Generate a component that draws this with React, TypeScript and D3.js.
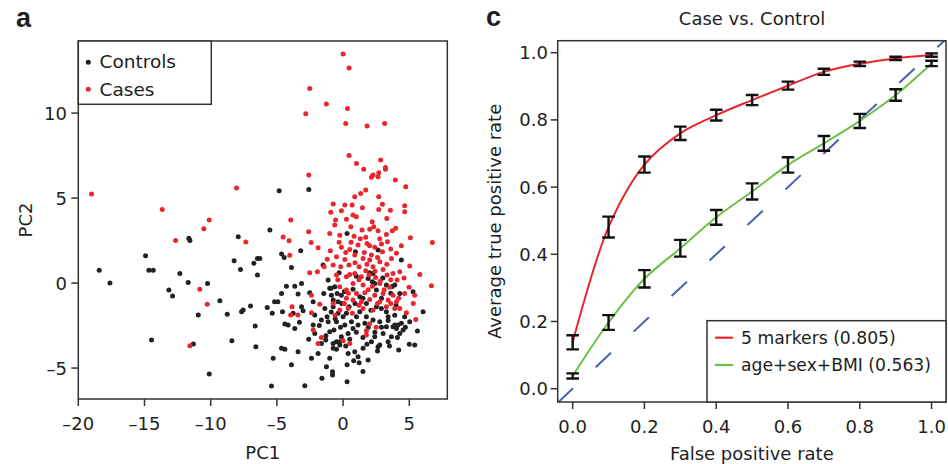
import React from "react";
import * as d3 from "d3";

// ---------- Panel a: PCA scatter ----------
const pcXTicks = [-20, -15, -10, -5, 0, 5];
const pcYTicks = [-5, 0, 5, 10];

const cases: [number, number][] = [
  [0.0, 13.47], [0.45, 12.65], [-2.52, 11.45], [-1.26, 10.53], [-2.82, 9.96], [0.33, 10.27],
  [0.2, 9.39], [1.81, 9.24], [3.14, 9.39], [0.45, 7.51], [1.01, 7.04], [1.56, 6.69],
  [2.84, 7.24], [3.2, 6.8], [3.2, 6.7], [2.69, 6.49], [2.14, 6.22], [2.26, 6.35], [2.64, 6.25],
  [3.95, 6.06], [-2.59, 6.35], [4.73, 5.67], [1.71, 5.47], [1.33, 5.27], [0.88, 5.08], [2.69, 5.08],
  [-8.05, 5.59], [-19.0, 5.24], [-13.66, 4.33], [-10.11, 3.71], [-10.52, 3.2], [-12.65, 2.51],
  [-7.35, 2.41], [-3.95, 3.71], [-2.6, 3.02], [-4.53, 2.71], [-4.08, 2.49], [-2.41, 2.39],
  [-1.89, 2.08], [-4.03, 1.63], [-0.75, 4.65], [0.13, 4.59], [0.68, 4.59], [1.46, 4.43],
  [2.69, 4.33], [2.97, 4.63], [3.57, 4.29], [4.65, 4.55], [4.65, 4.2], [-0.13, 4.25], [-0.93, 4.16],
  [-0.57, 3.71], [0.25, 3.76], [0.75, 4.0], [-0.63, 3.41], [0.58, 3.31], [1.43, 3.12], [2.01, 3.16],
  [2.31, 3.31], [2.64, 3.08], [3.27, 2.86], [3.72, 3.08], [3.97, 3.22], [5.08, 2.67], [6.74, 2.39],
  [-1.01, 2.92], [-0.25, 2.82], [0.83, 2.76], [1.71, 2.69], [2.77, 2.61], [3.35, 2.43], [-0.96, 1.9],
  [-0.13, 2.1], [0.5, 1.98], [1.13, 2.24], [1.81, 2.33], [2.39, 2.1], [2.97, 1.84], [4.03, 1.75],
  [-0.5, 1.55], [0.13, 1.39], [0.88, 1.65], [1.51, 1.45], [2.01, 1.35], [2.77, 1.25], [3.65, 1.45],
  [5.03, 1.0], [5.79, 0.51], [6.67, -0.16], [-0.75, 1.06], [-0.18, 0.96], [0.45, 1.06], [1.21, 0.96],
  [1.71, 0.73], [2.26, 0.96], [3.02, 0.8], [4.28, 0.67], [-1.94, 0.67], [-2.52, 0.61], [-1.43, 0.96],
  [-0.5, 0.47], [0.25, 0.37], [0.88, 0.57], [1.38, 0.37], [1.96, 0.47], [2.46, 0.33], [3.32, 0.47],
  [3.77, 0.57], [4.08, 0.18], [0.75, -0.02], [1.51, -0.12], [2.21, -0.18], [2.77, -0.02], [3.52, -0.25],
  [-0.25, -0.22], [0.25, -0.41], [1.01, -0.61], [1.64, -0.57], [2.39, -0.71], [3.02, -0.61], [3.77, -0.71],
  [4.65, -0.61], [5.41, -0.71], [4.98, -0.25], [0.25, -0.9], [0.75, -1.0], [1.38, -1.1], [2.01, -0.96],
  [2.77, -1.1], [3.4, -1.0], [4.03, -1.1], [3.9, -1.49], [3.27, -1.39], [4.78, -1.75], [4.28, -1.49],
  [5.49, -2.14], [1.51, -1.49], [2.26, -1.59], [-0.75, -1.2], [-1.76, -1.24], [-2.39, -0.71], [-2.39, -1.75],
  [-0.25, -1.59], [0.38, -1.49], [0.7, -1.78], [-3.86, -1.39], [-3.96, -1.88], [-3.41, -1.88], [-2.26, -2.76],
  [-1.89, -3.55], [-1.64, -3.2], [0.0, -3.39], [0.5, -3.55], [1.76, -2.8], [1.76, -3.06], [-10.82, -0.37],
  [-10.26, -1.24], [-11.57, -3.69], [2.14, 1.65],
  [0.6, 2.4], [1.3, 2.6], [2.0, 2.2], [2.9, 2.3], [3.6, 2.0], [0.2, 1.8], [1.6, 1.8], [2.6, 1.5],
  [3.3, 1.1], [0.9, 1.2], [1.8, 1.1], [2.4, 0.7], [3.6, 0.2], [0.5, 0.5], [1.2, 0.2], [2.8, 0.1],
  [3.1, -0.4], [1.9, -0.4], [0.4, -0.6], [2.6, -1.2], [3.6, -1.2], [4.2, -0.9], [1.2, -1.3], [-0.4, 0.2],
  [-1.2, 1.4], [-0.3, 2.4], [2.2, 3.6], [1.0, 3.9], [3.3, 3.8], [4.4, 2.2], [4.6, 0.3], [5.3, -1.2],
  [0.1, -1.2], [-0.6, -1.9], [2.0, -2.4], [2.5, -2.6],
];

const controls: [number, number][] = [
  [-18.42, 0.76], [-17.61, 0.0], [-14.92, 1.61], [-14.67, 0.76], [-14.34, 0.76], [-14.47, -3.35],
  [-13.16, -0.41], [-12.88, -0.76], [-12.33, 0.57], [-11.65, 2.63], [-11.57, 2.51], [-11.7, 0.04],
  [-10.94, -1.88], [-11.31, -3.59], [-10.24, -0.02], [-10.11, -5.35], [-9.31, -1.04], [-8.75, -1.84],
  [-8.4, -3.39], [-8.23, 1.31], [-7.92, 2.73], [-7.75, 0.8], [-7.67, -1.69], [-7.55, -1.59], [-6.99, -1.35],
  [-6.74, 1.16], [-6.47, 1.45], [-6.29, 1.45], [-6.47, 0.47], [-6.64, -2.53], [-6.59, -3.75], [-5.53, 3.12],
  [-4.83, 5.43], [-2.59, 5.51], [-5.73, -1.43], [-5.35, -1.78], [-5.18, -1.1], [-4.93, -1.1], [-4.65, -0.61],
  [-4.65, 1.71], [-4.45, 1.51], [-4.28, -0.18], [-4.58, -1.69], [-4.4, -2.41], [-4.15, -2.47], [-3.65, -2.67],
  [-5.28, -4.43], [-5.41, -6.06], [-4.65, -3.84], [-4.4, -3.9], [-3.9, 0.92], [-3.65, -0.18], [-3.4, -0.65],
  [-3.2, 1.9], [-3.14, -0.02], [-3.14, -1.39], [-3.02, -1.63], [-3.77, -1.78], [-3.4, -4.04], [-2.39, -4.43],
  [-2.89, -6.04], [-2.52, -0.57], [-2.26, -1.1], [-2.14, -1.88], [-2.26, -2.47], [-2.14, -2.96], [-1.89, -4.14],
  [-1.64, -2.18], [-1.51, 1.06], [-1.31, -3.35], [-1.26, -4.92], [-1.01, -4.43], [-0.8, -5.22], [-0.8, -5.41],
  [-1.21, -1.98], [-1.13, -2.27], [-1.01, -2.86], [-0.75, -3.55], [-0.5, -3.45], [-0.75, -3.84], [-0.25, -3.65],
  [-1.13, 0.18], [-1.01, -0.31], [-0.88, -0.71], [-0.63, -0.22], [-0.45, -0.61], [-0.13, -0.71], [-0.75, -1.39],
  [-0.38, -1.78], [-0.5, -2.27], [0.0, -1.98], [0.13, -2.47], [0.38, -2.96], [-0.13, -3.16], [0.63, -2.27],
  [0.75, -2.67], [0.38, -4.14], [0.88, -4.04], [1.13, -4.33], [0.8, -4.57], [1.21, -4.69], [0.3, -5.8],
  [1.89, -4.53], [1.51, -3.84], [2.14, -3.45], [2.64, -3.75], [2.77, -3.65], [2.39, -3.16], [3.02, -2.96],
  [3.65, -3.16], [3.77, -2.57], [4.03, -2.67], [4.15, -2.47], [3.9, -2.47], [4.53, -2.76], [4.4, -2.37],
  [4.2, -3.94], [5.41, -3.65], [5.61, -2.82], [6.04, -1.69], [5.28, -0.51], [4.4, 1.35], [0.3, 2.92],
  [0.93, 1.84], [1.89, 0.27], [2.21, 0.08], [2.39, -0.02], [2.64, 1.94], [3.27, -0.12], [3.9, -0.12],
  [0.75, -0.37], [1.26, -0.8], [1.76, -1.2], [2.52, -1.39], [2.89, -1.49], [3.27, -1.69], [1.26, -1.69],
  [1.76, -1.98], [2.26, -2.18], [1.01, -1.98], [1.13, -2.47], [1.64, -2.37], [2.77, -2.27], [3.4, -1.98],
  [3.27, -2.57], [0.45, -1.39], [0.25, -1.78], [-0.38, -1.1], [-1.38, -1.49], [-1.46, -0.61], [-0.69, -2.76],
  [-1.64, -3.55], [-0.25, -3.45], [-0.75, -1.0], [2.26, 0.57], [2.52, -0.41], [4.28, -0.61], [4.65, -1.98],
  [5.03, -2.27], [4.28, -2.96], [3.4, -3.45],
  [-1.8, -2.5], [-0.9, -1.7], [-0.2, -2.6], [0.5, -3.3], [1.0, -2.9], [1.5, -3.2], [1.9, -2.6], [2.4, -2.9],
  [2.9, -2.6], [3.4, -2.2], [3.9, -1.9], [0.9, -1.2], [1.5, -0.9], [2.1, -1.6], [2.9, -0.9], [3.6, -0.6],
  [4.0, -1.3], [-0.1, -1.2], [-0.6, -2.1], [-1.3, -3.1], [-0.5, -3.9], [0.2, -3.7], [1.8, -3.6], [2.6, -4.0],
  [3.5, -3.7], [4.1, -3.2], [-2.6, -3.3], [-3.3, -2.3], [0.1, -0.5], [1.0, 0.4], [2.0, 0.6], [3.0, 0.3],
  [3.7, -0.2], [-0.3, 0.6], [-0.9, -0.3], [0.3, -4.8], [1.5, -5.2], [-1.6, -5.6], [-3.9, -4.8], [4.7, -2.6],
  [5.0, -3.6],
];

const legendA = ["Controls", "Cases"];

// ---------- Panel c: ROC ----------
const fpr = [0, 0.1, 0.2, 0.3, 0.4, 0.5, 0.6, 0.7, 0.8, 0.9, 1.0];
const tprMarkers = [0.138, 0.481, 0.667, 0.76, 0.814, 0.859, 0.902, 0.943, 0.967, 0.983, 0.993];
const errMarkers = [0.021, 0.031, 0.024, 0.02, 0.016, 0.015, 0.012, 0.009, 0.0065, 0.005, 0.005];
const tprClinical = [0.038, 0.197, 0.327, 0.418, 0.51, 0.587, 0.666, 0.73, 0.797, 0.874, 0.968];
const errClinical = [0.0075, 0.022, 0.026, 0.025, 0.022, 0.024, 0.023, 0.022, 0.021, 0.017, 0.008];
const rocTicks = [0, 0.2, 0.4, 0.6, 0.8, 1.0];
const legendC = ["5 markers (0.805)", "age+sex+BMI (0.563)"];

const FONT = "DejaVu Sans";
const TXT = "#1e1e1e";
const RED = "#e8262d";
const GREEN = "#6cc04a";
const BLUE = "#4a5fb3";

const fmtTick = (v: number) => (v < 0 ? "\u2013" + Math.abs(v) : String(v));

export default function App() {
  // panel a scales
  const xa = d3.scaleLinear().domain([-20, 7.87]).range([78.3, 447.3]);
  const ya = d3.scaleLinear().domain([-6.82, 14.24]).range([399, 41]);
  // panel c scales
  const xc = d3.scaleLinear().domain([-0.0417, 1.0403]).range([557.7, 946]);
  const yc = d3.scaleLinear().domain([-0.0396, 1.0357]).range([402, 40.7]);

  const line = (ys: number[]) =>
    d3
      .line<number>()
      .x((_, i) => xc(fpr[i]))
      .y((d) => yc(d))
      .curve(d3.curveCatmullRom.alpha(0.5))(ys) || "";

  const [ax0, ax1] = xa.range();
  const [ay0, ay1] = ya.range();
  const [cx0, cx1] = xc.range();
  const [cy0, cy1] = yc.range();

  const errBars = (ys: number[], es: number[], key: string) =>
    ys.map((v, i) => {
      const x = xc(fpr[i]);
      const t = yc(v + es[i]);
      const b = yc(v - es[i]);
      return (
        <g key={key + i} stroke="#111" strokeWidth={2.4}>
          <line x1={x} x2={x} y1={t} y2={b} />
          <line x1={x - 6.3} x2={x + 6.3} y1={t} y2={t} />
          <line x1={x - 6.3} x2={x + 6.3} y1={b} y2={b} />
        </g>
      );
    });

  return (
    <svg width={948} height={464} viewBox="0 0 948 464"
      style={{ position: "absolute", left: 0, top: 0, display: "block" }}>
      <g fontFamily={FONT} fill={TXT}>
        {/* ===== Panel a ===== */}
        <text x={16} y={27} fontSize={27} fontWeight="bold" fontFamily="Liberation Sans">a</text>
        <defs>
          <clipPath id="clipA">
            <rect x={ax0} y={ay1} width={ax1 - ax0} height={ay0 - ay1} />
          </clipPath>
          <clipPath id="clipC">
            <rect x={cx0} y={cy1} width={cx1 - cx0} height={cy0 - cy1} />
          </clipPath>
        </defs>
        <g clipPath="url(#clipA)">
          {controls.map((p, i) => (
            <circle key={"k" + i} cx={xa(p[0])} cy={ya(p[1])} r={2.5} fill="#222" />
          ))}
          {cases.map((p, i) => (
            <circle key={"c" + i} cx={xa(p[0])} cy={ya(p[1])} r={2.5} fill={RED} />
          ))}
        </g>
        <rect x={ax0} y={ay1} width={ax1 - ax0} height={ay0 - ay1} fill="none" stroke="#333" strokeWidth={1.5} />
        {pcXTicks.map((t) => (
          <g key={"ax" + t}>
            <line x1={xa(t)} x2={xa(t)} y1={ay0} y2={ay0 + 7} stroke="#333" strokeWidth={1.5} />
            <text x={xa(t)} y={430} fontSize={18} textAnchor="middle">{fmtTick(t)}</text>
          </g>
        ))}
        {pcYTicks.map((t) => (
          <g key={"ay" + t}>
            <line x1={ax0 - 7} x2={ax0} y1={ya(t)} y2={ya(t)} stroke="#333" strokeWidth={1.5} />
            <text x={67} y={ya(t) + 6.5} fontSize={18} textAnchor="end">{fmtTick(t)}</text>
          </g>
        ))}
        <text x={(ax0 + ax1) / 2} y={459} fontSize={18} textAnchor="middle">PC1</text>
        <text transform={`translate(32,${(ay0 + ay1) / 2}) rotate(-90)`} fontSize={18} textAnchor="middle">PC2</text>
        {/* legend a */}
        <rect x={ax0} y={ay1} width={133} height={63.3} fill="white" stroke="#333" strokeWidth={1.5} />
        {legendA.map((l, i) => (
          <g key={l}>
            <circle cx={88.3} cy={62.3 + i * 27} r={2.5} fill={i === 0 ? "#222" : RED} />
            <text x={99.5} y={68 + i * 28} fontSize={18.5}>{l}</text>
          </g>
        ))}

        {/* ===== Panel c ===== */}
        <text x={486} y={26} fontSize={27} fontWeight="bold" fontFamily="Liberation Sans">c</text>
        <text x={752} y={25} fontSize={18} textAnchor="middle">Case vs. Control</text>
        <g clipPath="url(#clipC)">
          <line x1={xc(-0.0417)} y1={yc(-0.0417)} x2={xc(1.0403)} y2={yc(1.0403)}
            stroke={BLUE} strokeWidth={2} strokeDasharray="21 31" />
          <path d={line(tprClinical)} fill="none" stroke={GREEN} strokeWidth={2} />
          <path d={line(tprMarkers)} fill="none" stroke={RED} strokeWidth={2} />
          {errBars(tprMarkers, errMarkers, "em")}
          {errBars(tprClinical, errClinical, "ec")}
        </g>
        <rect x={cx0} y={cy1} width={cx1 - cx0} height={cy0 - cy1} fill="none" stroke="#333" strokeWidth={1.5} />
        {rocTicks.map((t) => (
          <g key={"cx" + t}>
            <line x1={xc(t)} x2={xc(t)} y1={cy0} y2={cy0 + 7} stroke="#333" strokeWidth={1.5} />
            <text x={xc(t)} y={433} fontSize={18} textAnchor="middle">{t.toFixed(1)}</text>
          </g>
        ))}
        {rocTicks.map((t) => (
          <g key={"cy" + t}>
            <line x1={cx0 - 7} x2={cx0} y1={yc(t)} y2={yc(t)} stroke="#333" strokeWidth={1.5} />
            <text x={548} y={yc(t) + 6.5} fontSize={18} textAnchor="end">{t.toFixed(1)}</text>
          </g>
        ))}
        <text x={(cx0 + cx1) / 2} y={460} fontSize={18} textAnchor="middle">False positive rate</text>
        <text transform={`translate(501,${(cy0 + cy1) / 2}) rotate(-90)`} fontSize={18} textAnchor="middle">
          Average true positive rate
        </text>
        {/* legend c */}
        <rect x={707} y={320.7} width={cx1 - 707} height={cy0 - 320.7} fill="white" stroke="#333" strokeWidth={1.5} />
        {legendC.map((l, i) => (
          <g key={l}>
            <line x1={715} x2={733} y1={337.7 + i * 27.3} y2={337.7 + i * 27.3} stroke={i === 0 ? RED : GREEN} strokeWidth={2.2} />
            <text x={741} y={344 + i * 27} fontSize={17.2}>{l}</text>
          </g>
        ))}
      </g>
    </svg>
  );
}
